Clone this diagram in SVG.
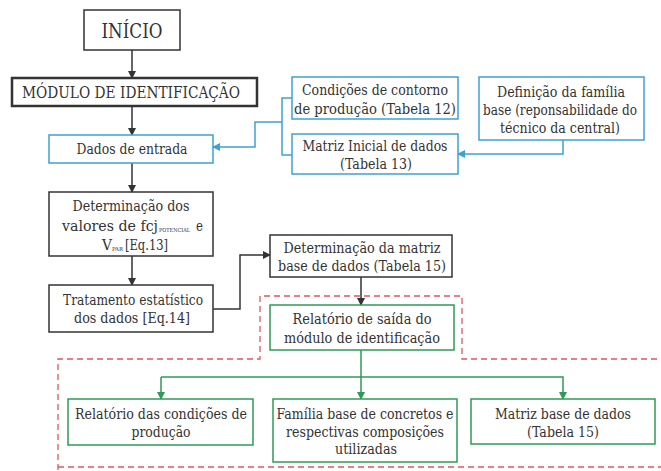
<svg xmlns="http://www.w3.org/2000/svg" width="661" height="471" viewBox="0 0 661 471">
<style>
text{font-family:'DejaVu Serif',serif;font-size:14px;fill:#333;text-anchor:middle}
text.s{text-anchor:start}
.k{fill:#fff;stroke:#333;stroke-width:1.5}
.b{fill:#fff;stroke:#3fa0d2;stroke-width:1.5}
.g{fill:#fff;stroke:#2f9a55;stroke-width:1.5}
.lk{fill:none;stroke:#333;stroke-width:1.5}
.lb{fill:none;stroke:#3fa0d2;stroke-width:1.5}
.lg{fill:none;stroke:#2f9a55;stroke-width:1.5}
.red{fill:none;stroke:#e0575c;stroke-width:1.3;stroke-dasharray:6 4}
text.sub{font-size:5.5px;text-anchor:start}
</style>
<defs>
<marker id="ak" markerWidth="8" markerHeight="8" refX="7" refY="4" orient="auto" markerUnits="userSpaceOnUse"><path d="M0,0 L8,4 L0,8 z" fill="#333"/></marker>
<marker id="ab" markerWidth="8" markerHeight="8" refX="7" refY="4" orient="auto" markerUnits="userSpaceOnUse"><path d="M0,0 L8,4 L0,8 z" fill="#3fa0d2"/></marker>
<marker id="ag" markerWidth="8" markerHeight="8" refX="7" refY="4" orient="auto" markerUnits="userSpaceOnUse"><path d="M0,0 L8,4 L0,8 z" fill="#2f9a55"/></marker>
</defs>
<rect width="661" height="471" fill="#fff"/>
<g id="regions">
<path class="red" d="M58,470 L58,359 L260,359 L260,296 L462,296 L462,359 L661,359"/>
<path class="red" d="M58,467 L661,467"/>
</g>
<g id="connectors">
<path class="lk" d="M132,50 L132,78" marker-end="url(#ak)"/>
<path class="lk" d="M132,106 L132,135" marker-end="url(#ak)"/>
<path class="lk" d="M132,163 L132,192" marker-end="url(#ak)"/>
<path class="lk" d="M132,256 L132,285" marker-end="url(#ak)"/>
<path class="lk" d="M213,309 L240,309 L240,255 L270,255" marker-end="url(#ak)"/>
<path class="lk" d="M361,277 L361,305" marker-end="url(#ak)"/>
<path class="lb" d="M292,98 L282,98 L282,155 L292,155"/>
<path class="lb" d="M282,122 L255,122 L255,147 L213,147" marker-end="url(#ab)"/>
<path class="lb" d="M563,140 L563,154 L458,154" marker-end="url(#ab)"/>
<path class="lg" d="M361,350 L361,399" marker-end="url(#ag)"/>
<path class="lg" d="M161,377 L563,377 L563,399" marker-end="url(#ag)"/>
<path class="lg" d="M161,377 L161,399" marker-end="url(#ag)"/>
</g>
<g id="inicio"><rect class="k" x="84" y="10" width="96" height="40"/><text x="132" y="38" style="font-size:20px" textLength="61" lengthAdjust="spacingAndGlyphs">INÍCIO</text></g>
<g id="modulo"><rect class="k" x="12" y="78" width="245" height="28" style="stroke-width:2.5"/><text x="131" y="98" style="font-size:16px" textLength="218" lengthAdjust="spacingAndGlyphs">MÓDULO DE IDENTIFICAÇÃO</text></g>
<g id="dados"><rect class="b" x="49" y="135" width="164" height="28"/><text x="132" y="154" textLength="111" lengthAdjust="spacingAndGlyphs">Dados de entrada</text></g>
<g id="determinacao"><rect class="k" x="49" y="192" width="164" height="64"/>
<text x="131" y="211" textLength="117" lengthAdjust="spacingAndGlyphs">Determinação dos</text>
<text class="s" x="62" y="231" textLength="96" lengthAdjust="spacingAndGlyphs">valores de fcj</text>
<text class="sub" x="159" y="232" textLength="31" lengthAdjust="spacingAndGlyphs">POTENCIAL</text>
<text class="s" x="196" y="231" textLength="7" lengthAdjust="spacingAndGlyphs">e</text>
<text class="s" x="102" y="250" textLength="10" lengthAdjust="spacingAndGlyphs">V</text>
<text class="sub" x="112" y="251" textLength="11" lengthAdjust="spacingAndGlyphs">PAR</text>
<text class="s" x="125" y="250" textLength="43" lengthAdjust="spacingAndGlyphs">[Eq.13]</text></g>
<g id="tratamento"><rect class="k" x="49" y="285" width="164" height="47"/><text x="133" y="305" textLength="140" lengthAdjust="spacingAndGlyphs">Tratamento estatístico</text><text x="132" y="323" textLength="116" lengthAdjust="spacingAndGlyphs">dos dados [Eq.14]</text></g>
<g id="condicoes"><rect class="b" x="292" y="77" width="166" height="42"/><text x="375" y="95" textLength="146" lengthAdjust="spacingAndGlyphs">Condições de contorno</text><text x="375" y="114" textLength="162" lengthAdjust="spacingAndGlyphs">de produção (Tabela 12)</text></g>
<g id="matrizinicial"><rect class="b" x="292" y="134" width="166" height="40"/><text x="375" y="151" textLength="145" lengthAdjust="spacingAndGlyphs">Matriz Inicial de dados</text><text x="376" y="169" textLength="72" lengthAdjust="spacingAndGlyphs">(Tabela 13)</text></g>
<g id="definicao"><rect class="b" x="479" y="77" width="165" height="63"/><text x="561" y="97" textLength="128" lengthAdjust="spacingAndGlyphs">Definição da família</text><text x="560" y="115" textLength="154" lengthAdjust="spacingAndGlyphs">base (reponsabilidade do</text><text x="560" y="133" textLength="120" lengthAdjust="spacingAndGlyphs">técnico da central)</text></g>
<g id="matrizbase1"><rect class="k" x="270" y="235" width="182" height="42"/><text x="362" y="253" textLength="157" lengthAdjust="spacingAndGlyphs">Determinação da matriz</text><text x="362" y="271" textLength="168" lengthAdjust="spacingAndGlyphs">base de dados (Tabela 15)</text></g>
<g id="relatorio"><rect class="g" x="270" y="305" width="184" height="45"/><text x="362" y="324" textLength="139" lengthAdjust="spacingAndGlyphs">Relatório de saída do</text><text x="362" y="343" textLength="156" lengthAdjust="spacingAndGlyphs">módulo de identificação</text></g>
<g id="relcond"><rect class="g" x="68" y="399" width="185" height="46"/><text x="161" y="419" textLength="172" lengthAdjust="spacingAndGlyphs">Relatório das condições de</text><text x="161" y="437" textLength="59" lengthAdjust="spacingAndGlyphs">produção</text></g>
<g id="familia"><rect class="g" x="273" y="399" width="184" height="63"/><text x="365" y="419" textLength="177" lengthAdjust="spacingAndGlyphs">Família base de concretos e</text><text x="365" y="437" textLength="158" lengthAdjust="spacingAndGlyphs">respectivas composições</text><text x="366" y="454" textLength="62" lengthAdjust="spacingAndGlyphs">utilizadas</text></g>
<g id="matrizbase2"><rect class="g" x="471" y="399" width="184" height="45"/><text x="563" y="419" textLength="136" lengthAdjust="spacingAndGlyphs">Matriz base de dados</text><text x="563" y="437" textLength="72" lengthAdjust="spacingAndGlyphs">(Tabela 15)</text></g>
</svg>
